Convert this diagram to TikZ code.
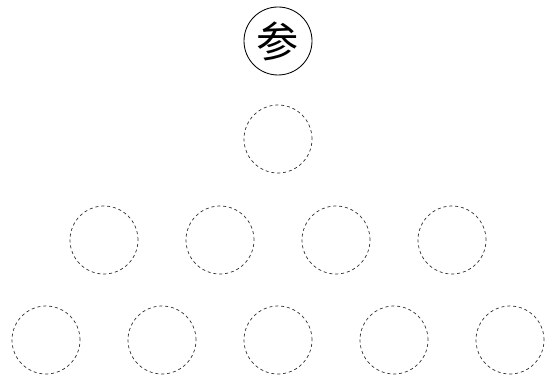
\documentclass[tikz,border=0pt]{standalone}
\usepackage{fontspec}
\newfontfamily\cjk{Noto Sans CJK SC}
\usetikzlibrary{positioning}

\tikzset{
  slot/.style={circle, draw=black!80, dash pattern=on 2.2pt off 2pt, line width=0.5pt, minimum size=1.7cm, inner sep=0pt},
  headslot/.style={circle, draw=black, line width=0.6pt, minimum size=1.7cm, inner sep=0pt, font=\cjk\fontsize{30}{30}\selectfont}
}

\begin{document}
\begin{tikzpicture}
  \useasboundingbox (0,0) rectangle (13.8,9.5);

  % Root character
  \node[headslot] (head) at (6.95,8.475) {参};

  % First level
  \node[slot] (a) at (6.95,6.025) {};

  % Second level
  \foreach \x [count=\i] in {2.6,5.5,8.4,11.3}
    \node[slot] (b\i) at (\x,3.5) {};

  % Third level
  \foreach \x [count=\i] in {1.15,4.05,6.95,9.85,12.75}
    \node[slot] (c\i) at (\x,1.0) {};
\end{tikzpicture}
\end{document}
